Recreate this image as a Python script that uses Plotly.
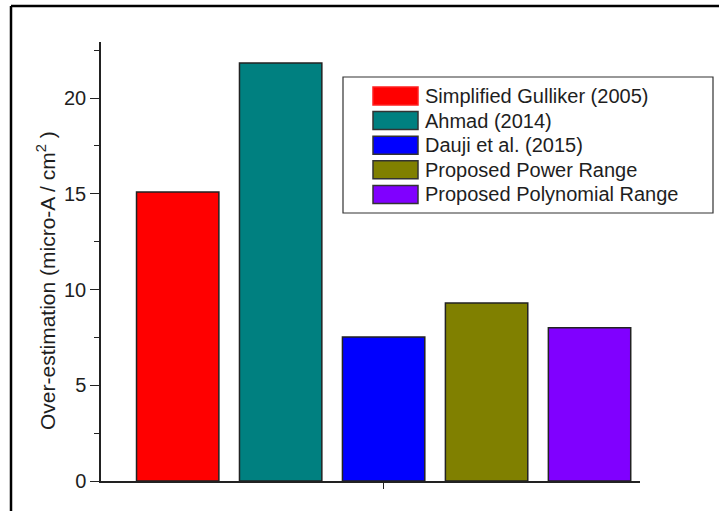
import plotly.graph_objects as go

# Over-estimation of each corrosion-rate method
series = [
    "Simplified Gulliker (2005)",
    "Ahmad (2014)",
    "Dauji et al. (2015)",
    "Proposed Power Range",
    "Proposed Polynomial Range",
]
values = [15.1, 21.83, 7.52, 9.3, 8.0]
colors = ["#ff0000", "#008080", "#0000ff", "#808000", "#8000ff"]
legend_borders = ["#ff2020", "#333333", "#333333", "#333333", "#333333"]

W, H = 719, 511
L, R, T, B = 101, 79, 42, 30
pw, ph = W - L - R, H - T - B


def px_x(x):
    return (x - L) / pw


def px_y(y):
    return (H - B - y) / ph


FONT = "Arial, Liberation Sans, sans-serif"

fig = go.Figure()
for name, val, col in zip(series, values, colors):
    fig.add_trace(go.Bar(
        x=[""], y=[val], name=name,
        marker=dict(color=col, line=dict(color="#222222", width=1.5)),
        showlegend=False,
    ))

shapes = []
annotations = []

# outer frame (left and top edges)
shapes.append(dict(type="line", xref="paper", yref="paper",
                   x0=px_x(11), x1=px_x(W + 5), y0=px_y(6), y1=px_y(6),
                   line=dict(color="black", width=2.5)))
shapes.append(dict(type="line", xref="paper", yref="paper",
                   x0=px_x(11), x1=px_x(11), y0=px_y(6), y1=px_y(H + 5),
                   line=dict(color="black", width=2.5)))

# legend box
shapes.append(dict(type="rect", xref="paper", yref="paper",
                   x0=px_x(343), x1=px_x(713), y0=px_y(77), y1=px_y(213),
                   line=dict(color="#333333", width=1.2), fillcolor="white"))
for i, (name, col, bcol) in enumerate(zip(series, colors, legend_borders)):
    cy = 96 + i * 24.6
    shapes.append(dict(type="rect", xref="paper", yref="paper",
                       x0=px_x(373), x1=px_x(418), y0=px_y(cy - 9), y1=px_y(cy + 9),
                       line=dict(color=bcol, width=1.5), fillcolor=col))
    annotations.append(dict(xref="paper", yref="paper", x=px_x(423), y=px_y(cy),
                            text=name, showarrow=False, xanchor="left", yanchor="middle",
                            font=dict(family=FONT, size=20, color="#1e1e1e")))

# y-axis title
annotations.append(dict(xref="paper", yref="paper", x=px_x(46), y=px_y(281),
                        text="Over-estimation (micro-A / cm<sup>2</sup> )",
                        textangle=-90, showarrow=False,
                        xanchor="center", yanchor="middle",
                        font=dict(family=FONT, size=21, color="#1e1e1e")))

fig.update_layout(
    width=W, height=H,
    margin=dict(l=L, r=R, t=T, b=B, pad=0),
    paper_bgcolor="white", plot_bgcolor="white",
    barmode="group", bargap=0.0, bargroupgap=0.2,
    shapes=shapes, annotations=annotations,
    font=dict(family=FONT, color="#1e1e1e"),
    xaxis=dict(
        type="category", range=[-0.549, 0.498],
        showline=True, linecolor="#222222", linewidth=1.5,
        ticks="outside", ticklen=6, tickwidth=1.2, tickcolor="#222222",
        showticklabels=False, showgrid=False, zeroline=False,
    ),
    yaxis=dict(
        range=[0, 22.93], tickvals=[0, 5, 10, 15, 20],
        showline=True, linecolor="#222222", linewidth=1.5,
        ticks="outside", ticklen=9, tickwidth=1.2, tickcolor="#222222",
        minor=dict(tickvals=[2.5, 7.5, 12.5, 17.5, 22.5], ticks="outside",
                   ticklen=5, tickwidth=1.2, tickcolor="#222222"),
        tickfont=dict(family=FONT, size=20, color="#1e1e1e"),
        showgrid=False, zeroline=False,
    ),
)

fig.write_html("out.html")
